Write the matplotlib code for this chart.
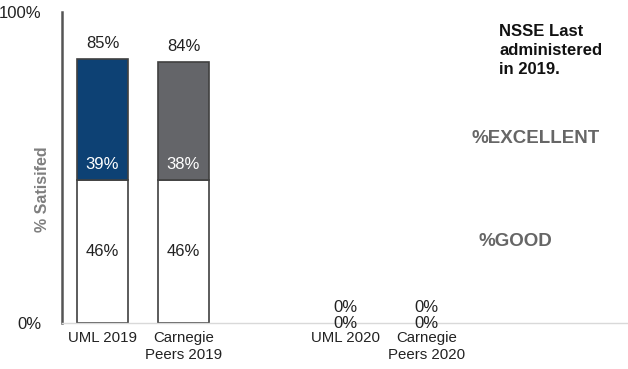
import matplotlib.pyplot as plt
import numpy as np

plt.rcParams['font.family'] = ['Liberation Sans', 'DejaVu Sans']

categories = ['UML 2019', 'Carnegie\nPeers 2019', '', 'UML 2020', 'Carnegie\nPeers 2020', '', '']
good = [46, 46, 0, 0, 0, 0, 0]
excellent = [39, 38, 0, 0, 0, 0, 0]
totals = [85, 84, None, 0, 0, None, None]
bar_colors = ['#0d4174', '#646569', '#646569', '#0d4174', '#646569', '#646569', '#646569']
shown = [True, True, False, True, True, False, False]

fig = plt.figure(figsize=(6.28, 3.69), dpi=100)
ax = fig.add_axes([62 / 628, 1 - 323 / 369, 1 - 62 / 628, (323 - 12) / 369])

x = np.arange(len(categories))
w = 0.63
for i in x:
    if not shown[i]:
        continue
    if good[i] > 0:
        ax.bar(i, good[i], width=w, color='white', edgecolor='#404040', linewidth=1.2)
        ax.bar(i, excellent[i], bottom=good[i], width=w, color=bar_colors[i],
               edgecolor='#404040', linewidth=1.2)
    ax.text(i, good[i] / 2, f'{good[i]}%', ha='center', va='center', fontsize=12, color='#222222')
    if excellent[i] > 0:
        ax.text(i, good[i] + 5, f'{excellent[i]}%', ha='center', va='center', fontsize=12, color='white')
    ax.text(i, totals[i] + 5, f'{totals[i]}%', ha='center', va='center', fontsize=12, color='#222222')

ax.set_xlim(-0.5, 6.49)
ax.set_ylim(0, 100)
ax.set_xticks(x)
ax.set_xticklabels(categories, fontsize=10.8, color='#222222', linespacing=1.25)
ax.set_yticks([0, 100])
ax.set_yticklabels(['0%', '100%'], fontsize=12, color='#222222')
ax.tick_params(length=0)
ax.tick_params(axis='x', pad=6)
ax.tick_params(axis='y', pad=15)

for s in ['top', 'right']:
    ax.spines[s].set_visible(False)
ax.spines['left'].set_color('#555555')
ax.spines['left'].set_linewidth(1.8)
ax.spines['bottom'].set_color('#d9d9d9')
ax.spines['bottom'].set_linewidth(1.0)

ax.set_ylabel('% Satisifed', fontsize=11.5, fontweight='bold', color='#7f7f7f')
ax.yaxis.set_label_coords(-12 / 566, 0.43)

fig.text(499 / 628, 1 - 24 / 369, 'NSSE Last\nadministered\nin 2019.', ha='left', va='top',
         fontsize=12, fontweight='bold', color='#111111', linespacing=1.35)
fig.text(536 / 628, 1 - 139 / 369, '%EXCELLENT', ha='center', va='center',
         fontsize=13.5, fontweight='bold', color='#666666')
fig.text(515 / 628, 1 - 241 / 369, '%GOOD', ha='center', va='center',
         fontsize=13.5, fontweight='bold', color='#666666')

fig.savefig('out.png', dpi=100)
